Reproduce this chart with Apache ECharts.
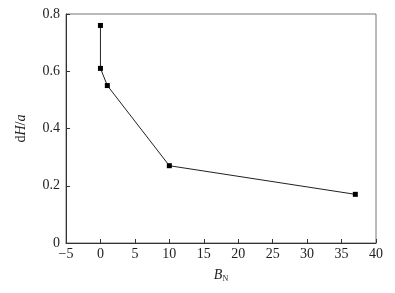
<!DOCTYPE html>
<html>
<head>
<meta charset="utf-8">
<script src="https://cdn.jsdelivr.net/npm/echarts@6/dist/echarts.min.js"></script>
<style>html,body{margin:0;padding:0;background:#fff;}#c{width:395px;height:293px;}</style>
</head>
<body>
<div id="c"></div>
<script>
const xValues = [0, 0, 1, 10, 37];
const yValues = [0.76, 0.61, 0.55, 0.27, 0.17];
const xTicks = {min: -5, max: 40, interval: 5};
const yTicks = {min: 0, max: 0.8, interval: 0.2};

const font = '"Liberation Serif", "Times New Roman", serif';
const chart = echarts.init(document.getElementById('c'), null, {renderer: 'canvas'});
const data = xValues.map((x, i) => [x, yValues[i]]);
chart.setOption({
  backgroundColor: '#fff',
  animation: false,
  grid: {left: 66, top: 14, right: 19, bottom: 50, show: true, borderColor: '#777', borderWidth: 1},
  xAxis: {
    type: 'value', min: xTicks.min, max: xTicks.max, interval: xTicks.interval,
    name: '{i|B}{s|N}', nameLocation: 'middle', nameGap: 24,
    nameTextStyle: {rich: {
      i: {fontFamily: font, fontStyle: 'italic', fontSize: 14, color: '#222'},
      s: {fontFamily: font, fontSize: 8, color: '#222', verticalAlign: 'bottom', padding: [8, 0, 0, 0]}
    }},
    axisLine: {show: true, onZero: false, lineStyle: {color: '#333', width: 1}},
    axisTick: {show: true, inside: true, length: 4, lineStyle: {color: '#333'}},
    axisLabel: {fontFamily: font, fontSize: 14, color: '#222', margin: 4,
      formatter: v => String(v).replace('-', '\u2212')},
    splitLine: {show: false}
  },
  yAxis: {
    type: 'value', min: yTicks.min, max: yTicks.max, interval: yTicks.interval,
    name: '{n|d}{i|H}{n|/}{i|a}', nameLocation: 'middle', nameGap: 38, nameRotate: 90,
    nameTextStyle: {rich: {
      n: {fontFamily: font, fontSize: 14, color: '#222'},
      i: {fontFamily: font, fontStyle: 'italic', fontSize: 14, color: '#222'}
    }},
    axisLine: {show: true, onZero: false, lineStyle: {color: '#333', width: 1}},
    axisTick: {show: true, inside: true, length: 4, lineStyle: {color: '#333'}},
    axisLabel: {fontFamily: font, fontSize: 14, color: '#222', margin: 6,
      formatter: v => (v === 0 ? '0' : v.toFixed(1))},
    splitLine: {show: false}
  },
  series: [{
    type: 'line', data: data,
    symbol: 'rect', symbolSize: 5,
    lineStyle: {color: '#222', width: 1},
    itemStyle: {color: '#000'}
  }]
});
</script>
</body>
</html>
